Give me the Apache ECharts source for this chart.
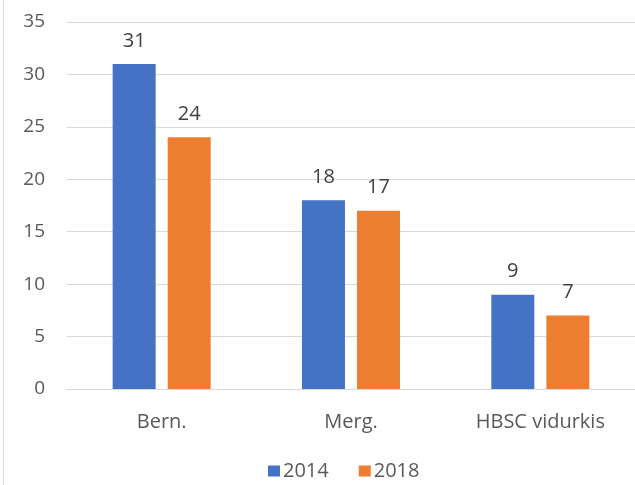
<!DOCTYPE html>
<html><head><meta charset="utf-8">
<script src="https://cdn.jsdelivr.net/npm/echarts@6/dist/echarts.min.js"></script>
<style>html,body{margin:0;padding:0;background:#fff}#c{width:635px;height:485px}</style>
</head><body><div id="c"></div>
<script>
var categories = ["Bern.", "Merg.", "HBSC vidurkis"];
var values2014 = [31, 18, 9];
var values2018 = [24, 17, 7];
var seriesNames = ["2014", "2018"];
var yTicks = [0, 5, 10, 15, 20, 25, 30, 35];

var FONT = "Open Sans";
var chart = echarts.init(document.getElementById('c'), null, {renderer: 'canvas'});
var labelStyle = {show: true, position: 'top', distance: 13, color: '#404040', fontSize: 20, fontFamily: FONT};
chart.setOption({
  animation: false,
  textStyle: {fontFamily: FONT},
  graphic: [{type: 'line', shape: {x1: 3.5, y1: 0, x2: 3.5, y2: 485}, style: {stroke: '#d9d9d9', lineWidth: 1}}],
  grid: {left: 67, top: 22, width: 579, height: 367},
  legend: {
    top: 461, left: 268, padding: 0, itemWidth: 12, itemHeight: 11, itemGap: 30,
    icon: 'rect',
    textStyle: {color: '#595959', fontSize: 20, fontFamily: FONT, padding: [0, 0, 0, -2]},
    data: seriesNames
  },
  xAxis: {
    type: 'category', data: categories,
    axisLine: {lineStyle: {color: '#d9d9d9'}}, axisTick: {show: false},
    axisLabel: {color: '#595959', fontSize: 20, fontFamily: FONT, margin: 23}
  },
  yAxis: {
    type: 'value', min: yTicks[0], max: yTicks[yTicks.length - 1], interval: 5,
    axisLine: {show: false}, axisTick: {show: false},
    splitLine: {lineStyle: {color: '#d9d9d9', width: 1}},
    axisLabel: {color: '#595959', fontSize: 19, fontFamily: FONT, margin: 22}
  },
  series: [
    {name: seriesNames[0], type: 'bar', data: values2014, barWidth: 43, barGap: '28%', itemStyle: {color: '#4472C4'}, label: labelStyle},
    {name: seriesNames[1], type: 'bar', data: values2018, barWidth: 43, itemStyle: {color: '#ED7D31'}, label: labelStyle}
  ]
});
</script></body></html>
